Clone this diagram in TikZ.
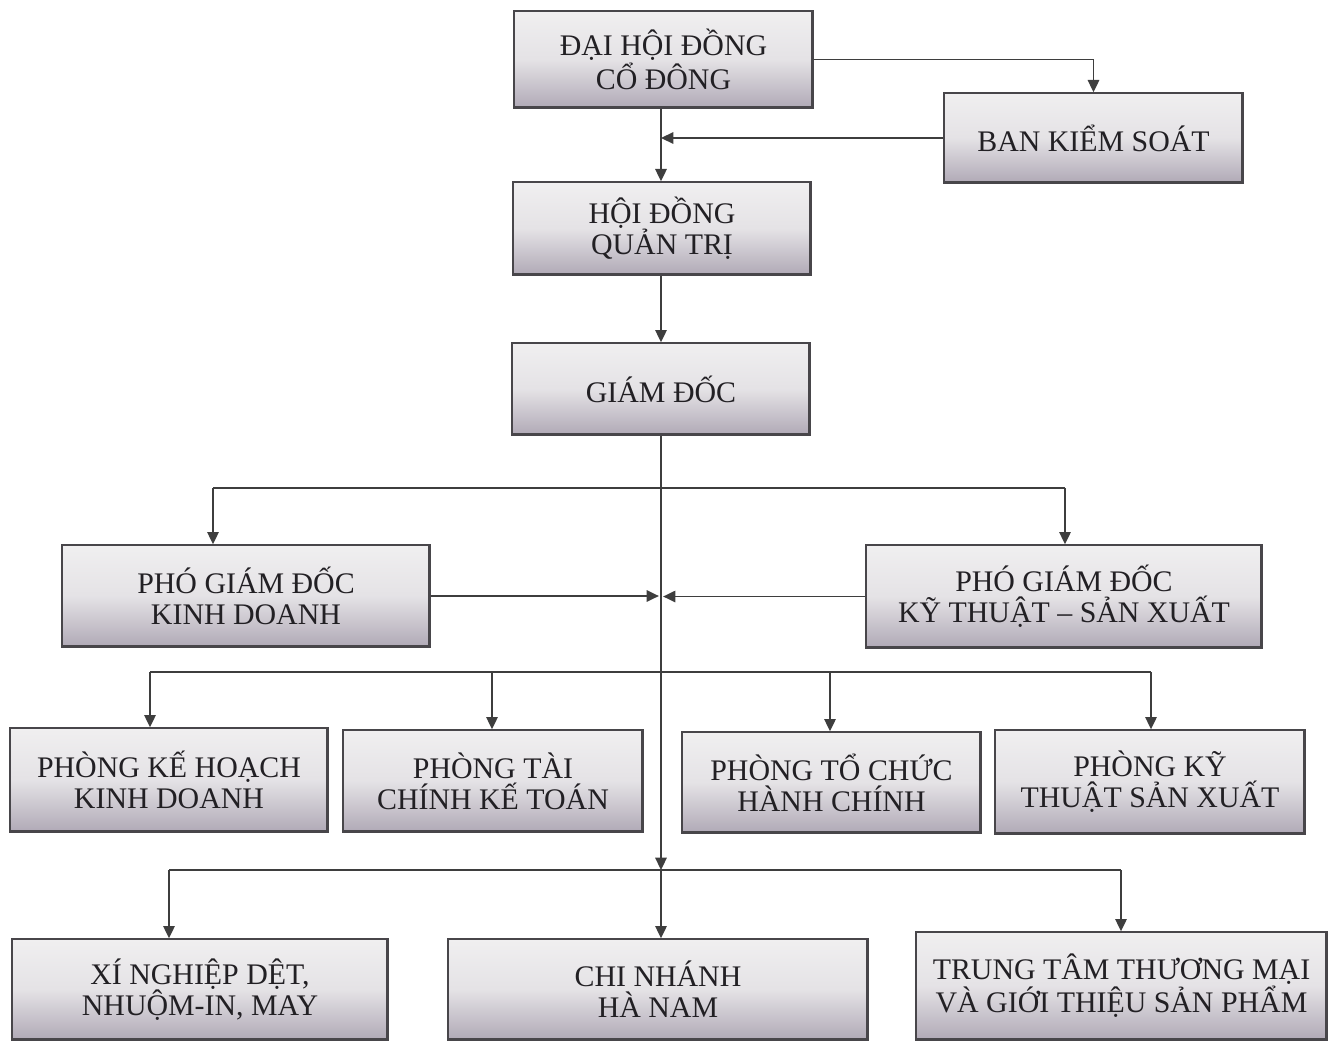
\documentclass[tikz,border=0pt]{standalone}
\usepackage{fontspec}
\setmainfont{Liberation Serif}
\usepackage{tikz}
\usetikzlibrary{positioning,calc,arrows.meta}
\definecolor{boxTop}{RGB}{240,239,240}
\definecolor{boxBot}{RGB}{176,169,182}
\definecolor{edgeGray}{RGB}{72,70,74}
\definecolor{inkGray}{RGB}{34,32,36}
\definecolor{lineGray}{RGB}{62,62,62}

\begin{document}
\begin{tikzpicture}[
                unit/.style={draw=edgeGray,line width=0.8pt,top color=boxTop,bottom color=boxBot,
                            middle color=boxTop!82!boxBot,text=inkGray,align=center,inner sep=2pt,
                            font=\fontsize{17}{17.5}\selectfont,
                            path picture={\draw[edgeGray,line width=2.6pt]
                                (path picture bounding box.south west) -- (path picture bounding box.south east)
                                -- (path picture bounding box.north east);}},
                link/.style={draw=lineGray,line width=1pt},
                arr/.style={link,-{Triangle[length=7pt,width=6.5pt]}}
            ]
                \useasboundingbox (0,0) rectangle (26.62,-20.84);

                \node[unit,minimum width=5.98cm,minimum height=1.94cm] (dhd) at (13.27,-1.19) {ĐẠI HỘI ĐỒNG\\CỔ ĐÔNG};
                \node[unit,minimum width=5.98cm,minimum height=1.80cm] (bks) at (21.87,-2.76) {BAN KIỂM SOÁT};
                \node[unit,minimum width=5.96cm,minimum height=1.86cm] (hdqt) at (13.24,-4.57) {HỘI ĐỒNG\\QUẢN TRỊ};
                \node[unit,minimum width=5.96cm,minimum height=1.84cm] (gd) at (13.22,-7.78) {GIÁM ĐỐC};

                \node[unit,minimum width=7.36cm,minimum height=2.04cm] (pkd) at (4.92,-11.92) {PHÓ GIÁM ĐỐC\\KINH DOANH};
                \node[unit,minimum width=7.92cm,minimum height=2.06cm] (pkt) at (21.28,-11.93) {PHÓ GIÁM ĐỐC\\KỸ THUẬT – SẢN XUẤT};

                \node[unit,minimum width=6.36cm,minimum height=2.08cm] (pkh) at (3.38,-15.60) {PHÒNG KẾ HOẠCH\\KINH DOANH};
                \node[unit,minimum width=6.00cm,minimum height=2.04cm] (ptc) at (9.86,-15.62) {PHÒNG TÀI\\CHÍNH KẾ TOÁN};
                \node[unit,minimum width=5.98cm,minimum height=2.02cm] (ptchc) at (16.63,-15.65) {PHÒNG TỔ CHỨC\\HÀNH CHÍNH};
                \node[unit,minimum width=6.20cm,minimum height=2.08cm] (pkts) at (23.00,-15.64) {PHÒNG KỸ\\THUẬT SẢN XUẤT};

                \node[unit,minimum width=7.52cm,minimum height=2.02cm] (xn) at (4.00,-19.79) {XÍ NGHIỆP DỆT,\\NHUỘM-IN, MAY};
                \node[unit,minimum width=8.40cm,minimum height=2.02cm] (cn) at (13.16,-19.79) {CHI NHÁNH\\HÀ NAM};
                \node[unit,minimum width=8.22cm,minimum height=2.16cm] (tt) at (22.43,-19.72) {TRUNG TÂM THƯƠNG MẠI\\VÀ GIỚI THIỆU SẢN PHẨM};

                % trunk and buses
                \coordinate (trunk) at (13.22,-17.40);
                \coordinate (busA) at (4.26,-9.76);
                \coordinate (busB) at (21.30,-9.76);
                \coordinate (busC) at (3.00,-13.44);
                \coordinate (busD) at (23.02,-13.44);
                \coordinate (busE) at (3.38,-17.40);
                \coordinate (busF) at (22.42,-17.40);

                \draw[arr] (dhd.east) -| (bks.north);
                \draw[arr] (bks.west) -- (bks.west -| trunk);
                \draw[arr] (dhd.south -| trunk) -- (hdqt.north -| trunk);
                \draw[arr] (hdqt.south -| trunk) -- (gd.north -| trunk);
                \draw[arr] (gd.south -| trunk) -- (trunk);

                \draw[link] (busA) -- (busB);
                \draw[arr] (busA) -- (busA |- pkd.north);
                \draw[arr] (busB) -- (busB |- pkt.north);
                \draw[arr,shorten >=1.2pt] (pkd.east) -- (pkd.east -| trunk);
                \draw[arr,shorten >=1.2pt] (pkt.west) -- (pkt.west -| trunk);

                \draw[link] (busC) -- (busD);
                \foreach \xpos/\tgt in {3.00/pkh,9.84/ptc,16.60/ptchc,23.02/pkts}
                    \draw[arr] (\xpos,-13.44) -- (\xpos,-13.44 |- \tgt.north);

                \draw[link] (busE) -- (busF);
                \draw[arr] (busE) -- (busE |- xn.north);
                \draw[arr] (trunk) -- (trunk |- cn.north);
                \draw[arr] (busF) -- (busF |- tt.north);
            \end{tikzpicture}
\end{document}
